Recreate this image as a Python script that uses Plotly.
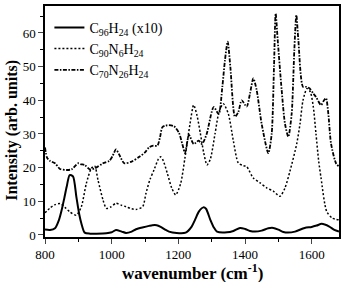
import plotly.graph_objects as go

# C96H24 (x10) - solid
x_c96 = [800, 815, 830, 842, 850, 858, 865, 874, 884, 894, 903, 909, 919, 935, 954, 984, 1000, 1013, 1030, 1043,
         1060, 1073, 1095, 1112, 1122, 1135, 1147, 1160, 1172, 1195, 1222, 1240, 1250, 1262, 1275, 1283, 1296, 1306,
         1316, 1346, 1365, 1385, 1400, 1415, 1430, 1450, 1470, 1485, 1500, 1515, 1529, 1550, 1579, 1600, 1615, 1630,
         1653, 1668, 1682]
y_c96 = [1.6, 1.5, 2.0, 4.5, 7.4, 11, 14.3, 17.8, 17.4, 11.4, 6, 3.5, 0.7, 0.4, 0.4, 0.5, 0.8, 1.5, 1.0, 0.6,
         1.0, 1.7, 2.3, 2.7, 2.9, 2.9, 2.4, 1.6, 1.0, 0.6, 0.7, 2.5, 4.5, 7, 8.2, 7.8, 4.5, 2.3,
         1.0, 0.8, 1.2, 2.1, 1.8, 1.2, 1.0, 1.3, 2.0, 2.1, 1.6, 0.9, 0.7, 1.0, 2.1, 2.4, 2.8, 3.3,
         2.5, 1.5, 1.0]

# C90N6H24 - dotted
x_c90 = [800, 815, 830, 845, 860, 874, 894, 909, 924, 939, 949, 959, 974, 984, 997, 1013, 1030, 1043, 1060, 1073,
         1093, 1103, 1115, 1127, 1140, 1147, 1155, 1167, 1180, 1192, 1207, 1220, 1235, 1246, 1256, 1266, 1276, 1286,
         1296, 1310, 1322, 1335, 1350, 1365, 1380, 1395, 1405, 1425, 1445, 1465, 1485, 1505, 1520, 1535, 1555, 1565,
         1574, 1586, 1596, 1605, 1613, 1621, 1628, 1645, 1662, 1682]
y_c90 = [6.6, 8.0, 9.0, 9.3, 8.2, 6.9, 5.9, 8.4, 15.3, 19.8, 20.5, 16.3, 10.4, 7.9, 8.3, 9.4, 8.8, 8.4, 7.8, 7.6,
         8.4, 12.4, 16.5, 19.3, 22.5, 23.2, 22.0, 18.3, 14, 11.9, 15.3, 23, 33, 38.6, 35.5, 30.2, 24.5, 20.8,
         22.5, 30, 36.5, 39, 36, 28, 21.4, 20.6, 20.3, 16.9, 15.5, 14, 13, 11.5, 14, 19, 27, 33,
         40, 43.5, 42.5, 38, 30, 22, 17, 7, 5, 4.5]

# C70N26H24 - dash-dot
x_c70 = [800, 806, 815, 830, 845, 865, 880, 899, 908, 919, 934, 950, 974, 993, 1003, 1013, 1022, 1038, 1060, 1083,
         1100, 1112, 1125, 1137, 1145, 1152, 1162, 1172, 1187, 1202, 1212, 1220, 1232, 1246, 1261, 1271, 1285, 1306,
         1321, 1332, 1340, 1348, 1356, 1370, 1380, 1390, 1405, 1415, 1425, 1435, 1450, 1470, 1480, 1487, 1492, 1498,
         1510, 1520, 1530, 1540, 1548, 1554, 1560, 1574, 1584, 1594, 1605, 1613, 1628, 1637, 1643, 1650, 1658, 1673,
         1682]
y_c70 = [26, 23, 22, 21.3, 19.6, 19.3, 19.5, 21.3, 21, 20.8, 19.5, 19.8, 21.3, 22, 23.5, 25.4, 24, 21.3, 21.8, 23.2,
         24.5, 26, 26.5, 26.5, 29, 32, 32.5, 32.6, 32.3, 30.3, 27, 24.3, 29.7, 27, 28, 27, 30, 38,
         35.9, 44, 52, 57.4, 50, 35.1, 36.5, 40, 38.1, 42, 46.5, 43, 33, 24.3, 30, 50, 65.8, 58,
         43, 33, 29.2, 36, 55, 65.3, 58, 44, 44, 43.5, 42, 41, 38.6, 40, 40.6, 36, 27.2, 21.3,
         20.3]

names = ["C<sub>96</sub>H<sub>24</sub> (x10)", "C<sub>90</sub>N<sub>6</sub>H<sub>24</sub>",
         "C<sub>70</sub>N<sub>26</sub>H<sub>24</sub>"]

x_ticks = [800, 1000, 1200, 1400, 1600]
y_ticks = [0, 10, 20, 30, 40, 50, 60]

FONT = "Liberation Serif, Times New Roman, serif"

fig = go.Figure()
fig.add_trace(go.Scatter(x=x_c96, y=y_c96, mode="lines", name=names[0],
                         line=dict(color="black", width=2, shape="spline", smoothing=0.7)))
fig.add_trace(go.Scatter(x=x_c90, y=y_c90, mode="lines", name=names[1],
                         line=dict(color="black", width=1.5, dash="2px,2px", shape="spline", smoothing=0.7)))
fig.add_trace(go.Scatter(x=x_c70, y=y_c70, mode="lines", name=names[2],
                         line=dict(color="black", width=1.8, dash="4px,1.5px,1.5px,1.5px", shape="spline",
                                   smoothing=0.7)))

fig.update_layout(
    width=344, height=282,
    margin=dict(l=45, r=3, t=6, b=45),
    paper_bgcolor="white", plot_bgcolor="white",
    font=dict(family=FONT, color="black", size=13),
    showlegend=True,
    legend=dict(x=0.015, y=0.975, xanchor="left", yanchor="top", bgcolor="rgba(0,0,0,0)",
                font=dict(family=FONT, size=14, color="black"), tracegroupgap=0, itemwidth=30),
)
fig.update_xaxes(range=[800, 1682], tickvals=x_ticks, ticks="outside", ticklen=5, tickwidth=1.2,
                 showline=True, linecolor="black", linewidth=1.5, mirror=True, showgrid=False, zeroline=False,
                 tickfont=dict(family=FONT, size=13),
                 minor=dict(ticks="outside", ticklen=3, dtick=100, tick0=800, tickcolor="black", showgrid=False))
fig.update_yaxes(range=[-0.6, 68], tickvals=y_ticks, ticks="outside", ticklen=5, tickwidth=1.2,
                 showline=True, linecolor="black", linewidth=1.5, mirror=True, showgrid=False, zeroline=False,
                 tickfont=dict(family=FONT, size=13),
                 minor=dict(ticks="outside", ticklen=3, dtick=5, tick0=0, tickcolor="black", showgrid=False))

fig.add_annotation(text="<b>wavenumber (cm<sup>-1</sup>)</b>", xref="paper", yref="paper",
                   x=0.5, y=-0.097, xanchor="center", yanchor="top", showarrow=False,
                   font=dict(family=FONT, size=17, color="black"))
fig.add_annotation(text="<b>Intensity (arb. units)</b>", xref="paper", yref="paper",
                   x=-0.112, y=0.46, xanchor="center", yanchor="middle", textangle=-90, showarrow=False,
                   font=dict(family=FONT, size=16, color="black"))

fig.write_html("out.html")
